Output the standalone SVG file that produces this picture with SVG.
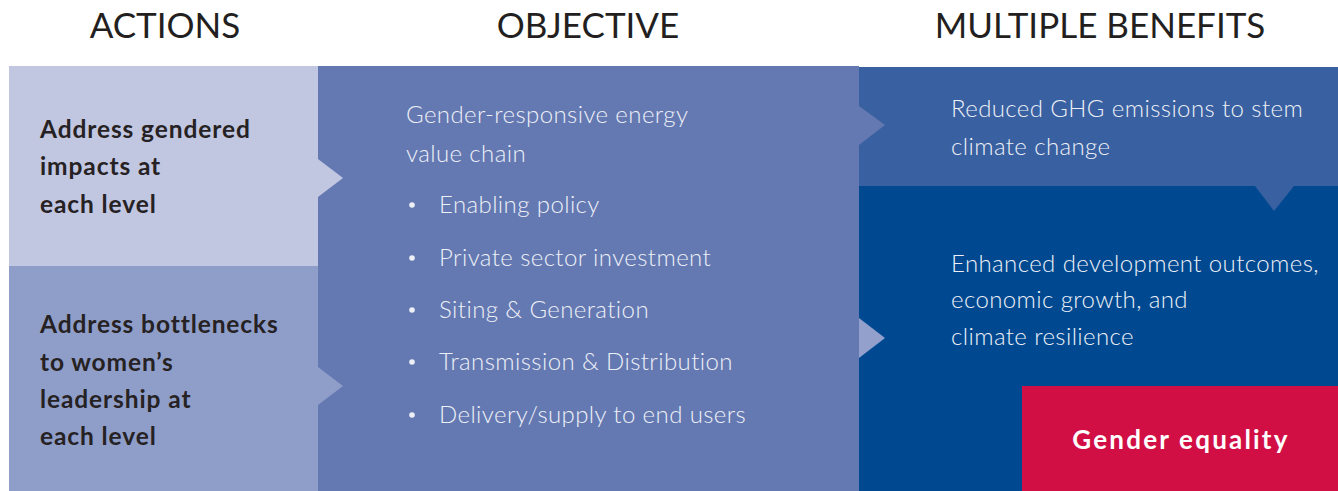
<svg xmlns="http://www.w3.org/2000/svg" width="1338" height="491" viewBox="0 0 1338 491">
<style>
.head{font-family:"Lato","Liberation Sans",sans-serif;font-size:35px;fill:#231f20;text-anchor:middle}
.act{font-family:"Lato","Liberation Sans",sans-serif;font-size:24.5px;font-weight:700;fill:#262223;letter-spacing:0.9px}
.lt{font-family:"Lato","Liberation Sans",sans-serif;font-size:24px;font-weight:300;fill:#eef0f7;letter-spacing:0.4px}
.ge{font-family:"Lato","Liberation Sans",sans-serif;font-size:26px;font-weight:700;fill:#ffffff;text-anchor:middle;letter-spacing:2.2px}
</style>
<rect width="1338" height="491" fill="#ffffff"/>
<g id="headings">
<text class="head" x="165" y="38">ACTIONS</text>
<text class="head" x="588" y="38">OBJECTIVE</text>
<text class="head" x="1100" y="38">MULTIPLE BENEFITS</text>
</g>
<g id="objective">
<rect x="318" y="66" width="541" height="425" fill="#6479b2"/>
<text class="lt" x="406" y="123">Gender-responsive energy</text>
<text class="lt" x="406" y="162">value chain</text>
<g fill="#eef0f7">
<circle cx="412" cy="205" r="2.8"/>
<circle cx="412" cy="258" r="2.8"/>
<circle cx="412" cy="310" r="2.8"/>
<circle cx="412" cy="362" r="2.8"/>
<circle cx="412" cy="415" r="2.8"/>
</g>
<text class="lt" x="439" y="213">Enabling policy</text>
<text class="lt" x="439" y="266">Private sector investment</text>
<text class="lt" x="439" y="318">Siting &amp; Generation</text>
<text class="lt" x="439" y="370">Transmission &amp; Distribution</text>
<text class="lt" x="439" y="423">Delivery/supply to end users</text>
</g>
<g id="action-impacts">
<rect x="9" y="66" width="309" height="200" fill="#c1c6e1"/>
<text class="act" x="40" y="138">Address gendered</text>
<text class="act" x="40" y="175">impacts at</text>
<text class="act" x="40" y="213">each level</text>
</g>
<g id="action-bottlenecks">
<rect x="9" y="266" width="309" height="225" fill="#8f9ec9"/>
<text class="act" x="40" y="333">Address bottlenecks</text>
<text class="act" x="40" y="371">to women’s</text>
<text class="act" x="40" y="408">leadership at</text>
<text class="act" x="40" y="445">each level</text>
</g>
<g id="benefit-ghg">
<rect x="859" y="67" width="479" height="119" fill="#3960a0"/>
<text class="lt" x="951" y="117">Reduced GHG emissions to stem</text>
<text class="lt" x="951" y="155">climate change</text>
</g>
<g id="benefit-development">
<rect x="859" y="186" width="479" height="305" fill="#004990"/>
<text class="lt" x="951" y="272">Enhanced development outcomes,</text>
<text class="lt" x="951" y="308">economic growth, and</text>
<text class="lt" x="951" y="345">climate resilience</text>
</g>
<g id="gender-equality">
<rect x="1022" y="386" width="316" height="105" fill="#d20f45"/>
<text class="ge" x="1181" y="449">Gender equality</text>
</g>
<g id="connectors">
<polygon points="318,159 343,178 318,197" fill="#c1c6e1"/>
<polygon points="318,367 343,386 318,405" fill="#8f9ec9"/>
<polygon points="859,106 885,125 859,145" fill="#6479b2"/>
<polygon points="1255,186 1294,186 1274,211" fill="#3960a0"/>
<polygon points="859,318 885,338 859,358" fill="#94a0cc"/>
</g>
</svg>
